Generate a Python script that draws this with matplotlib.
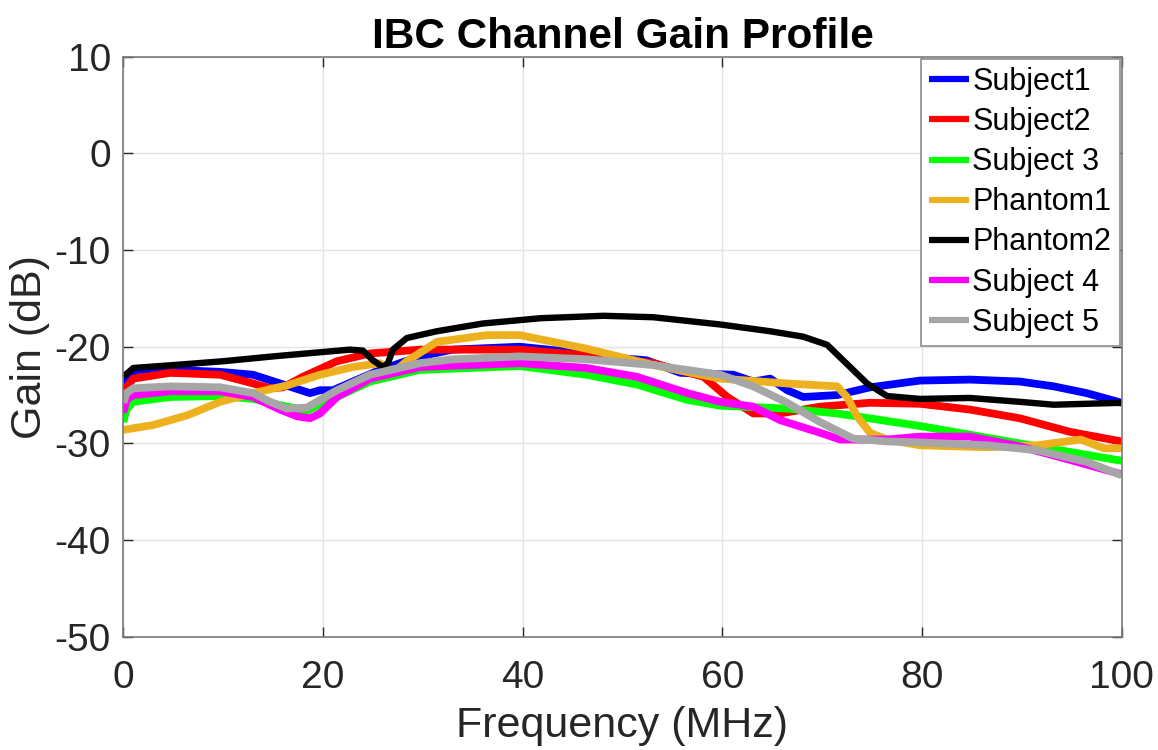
import matplotlib
matplotlib.use("Agg")
import matplotlib.pyplot as plt

plt.rcParams["font.family"] = ["Liberation Sans", "DejaVu Sans"]
plt.rcParams["axes.unicode_minus"] = False

# ----------------------------------------------------
# Data (frequency in MHz, gain in dB)
# ----------------------------------------------------

s1_f = [0, 0.3, 1.3, 5, 9.7, 13, 15.7, 18.7, 19.7, 21, 23, 25.7, 29.7, 33,
        39.7, 46.4, 50, 52.4, 55.8, 61.1, 63.1, 64.8, 66.5, 68.1, 71.5, 74.8,
        79.8, 84.8, 89.8, 93.2, 96.5, 100]
s1_g = [-25.5, -23.2, -22.4, -22.4, -22.6, -22.9, -23.8, -24.8, -24.5, -24.5,
        -23.6, -22.4, -21.0, -20.3, -20.0, -20.7, -21.2, -21.4, -22.7, -22.9,
        -23.6, -23.3, -24.5, -25.2, -25.0, -24.2, -23.5, -23.4, -23.6, -24.1,
        -24.8, -25.8]

s2_f = [0, 0.3, 1, 4.7, 9.7, 13, 14.7, 16, 18, 21.4, 24.7, 29.7, 39.7, 46.4,
        53.1, 58.1, 60.5, 63.1, 65.8, 69.8, 74.8, 79.8, 84.8, 89.8, 94.8, 100]
s2_g = [-25.5, -24.2, -23.3, -22.7, -22.9, -23.8, -24.3, -24.2, -23.1, -21.5,
        -20.7, -20.3, -20.3, -20.9, -21.7, -23.1, -25.2, -26.9, -26.9, -26.2,
        -25.8, -25.9, -26.5, -27.4, -28.8, -29.8]

s3_f = [0, 0.3, 1, 4.7, 9.7, 13, 16.4, 18.4, 21.4, 24.7, 29.7, 39.7, 46.4,
        51.4, 56.5, 59.8, 66.5, 71.5, 79.8, 89.8, 100]
s3_g = [-27.8, -26.5, -25.7, -25.2, -25.1, -25.4, -26.2, -26.6, -25.2, -23.6,
        -22.4, -22.0, -22.9, -23.9, -25.5, -26.1, -26.4, -26.9, -28.2, -30.0,
        -31.8]

p1_f = [0, 3, 6.4, 9.7, 13, 16.4, 19.7, 23, 25.7, 26.5, 27, 28.4, 31.4, 36.4,
        39.7, 46.4, 53.1, 59.8, 66.5, 71.5, 72.5, 73.5, 74.8, 76.5, 79.8, 86.5,
        91.5, 95.9, 98.2, 100]
p1_g = [-28.6, -28.1, -27.1, -25.7, -24.8, -24.0, -22.9, -22.1, -21.7, -22.3,
        -22.7, -21.5, -19.5, -18.8, -18.8, -20.2, -21.9, -23.3, -23.8, -24.1,
        -25.2, -27.2, -28.9, -29.6, -30.2, -30.4, -30.2, -29.6, -30.5, -30.5]

p2_f = [0, 1, 5, 10, 15, 22.7, 24, 25, 26, 26.5, 27, 28.4, 31.4, 36, 41.8,
        48.1, 53.1, 59.8, 64.8, 68.1, 70.5, 72.1, 74.5, 76.5, 79.8, 84.8, 89.8,
        93.2, 100]
p2_g = [-23.1, -22.2, -21.9, -21.5, -21.0, -20.3, -20.4, -21.4, -22.1, -21.7,
        -20.3, -19.1, -18.4, -17.6, -17.05, -16.8, -16.95, -17.7, -18.4, -18.96,
        -19.8, -21.4, -23.8, -25.1, -25.4, -25.3, -25.7, -26.0, -25.8]

s4_f = [0, 0.3, 1, 4.7, 9.7, 13, 15.7, 17.4, 18.7, 19.7, 21.4, 24.7, 29.7,
        39.7, 46.4, 51.4, 56.5, 59.8, 63.1, 65.8, 69.8, 71.8, 76.5, 79.8, 84.8,
        89.8, 94.8, 100]
s4_g = [-26.8, -25.5, -25.0, -24.6, -24.6, -25.2, -26.5, -27.2, -27.4, -26.9,
        -25.2, -23.3, -22.1, -21.7, -22.2, -23.1, -24.8, -25.7, -26.2, -27.6,
        -28.9, -29.6, -29.6, -29.3, -29.3, -30.3, -31.7, -33.2]

s5_f = [0, 0.3, 1, 4.7, 9.7, 13, 14.7, 16.4, 18.4, 19.7, 21.4, 24.7, 29.7, 33,
        39.7, 46.4, 53.1, 59.8, 63.1, 66.5, 69.8, 73.1, 76.5, 79.8, 86.5, 91.5,
        96.5, 100]
s5_g = [-25.8, -24.8, -24.3, -24.1, -24.2, -24.8, -25.7, -26.4, -26.3, -25.5,
        -24.5, -22.9, -21.7, -21.3, -21.0, -21.3, -21.9, -22.9, -24.1, -25.8,
        -27.8, -29.5, -29.8, -29.9, -30.2, -30.7, -31.9, -33.3]

names = ["Subject1", "Subject2", "Subject 3", "Phantom1", "Phantom2",
         "Subject 4", "Subject 5"]
colors = ["#0000ff", "#ff0000", "#00ff00", "#edb120", "#000000",
          "#ff00ff", "#a6a6a6"]
freqs = [s1_f, s2_f, s3_f, p1_f, p2_f, s4_f, s5_f]
gains = [s1_g, s2_g, s3_g, p1_g, p2_g, s4_g, s5_g]

# ----------------------------------------------------
# Figure
# ----------------------------------------------------

fig = plt.figure(figsize=(11.58, 7.5), dpi=100)
ax = fig.add_axes([0.1065, 0.151, 0.8621, 0.7734])

for f, g, c, n in zip(freqs, gains, colors, names):
    lw = 4.6 if n == "Phantom2" else 5.6
    ax.plot(f, g, color=c, lw=lw, label=n,
            solid_joinstyle="round", solid_capstyle="butt")

ax.set_xlim(0, 100)
ax.set_ylim(-50, 10)
ax.set_xticks(range(0, 101, 20))
ax.set_yticks(range(-50, 11, 10))

ax.grid(True, color="#e3e3e3", lw=1)
ax.set_axisbelow(True)

ax.tick_params(direction="in", length=7, width=1, colors="#262626",
               labelsize=28, top=True, right=True)
ax.tick_params(axis="x", pad=17)
ax.tick_params(axis="y", pad=9)
for sp in ax.spines.values():
    sp.set_color("#7a7a7a")
    sp.set_linewidth(1.2)

ax.set_xlabel("Frequency (MHz)", fontsize=31, color="#262626", labelpad=7)
ax.set_ylabel("Gain (dB)", fontsize=31, color="#262626", labelpad=3)
ax.set_title("IBC Channel Gain Profile", fontsize=30.5, fontweight="bold",
             pad=6)

leg = ax.legend(loc="upper right", fontsize=22, frameon=True,
                fancybox=False, borderaxespad=0.06, handlelength=1.3,
                handletextpad=0.1, labelspacing=0.33, borderpad=0.28)
leg.get_frame().set_edgecolor("#8c8c8c")
leg.get_frame().set_linewidth(1.2)
leg.get_frame().set_alpha(1)
for line in leg.get_lines():
    line.set_linewidth(4.5)

fig.savefig("out.png", dpi=100)
